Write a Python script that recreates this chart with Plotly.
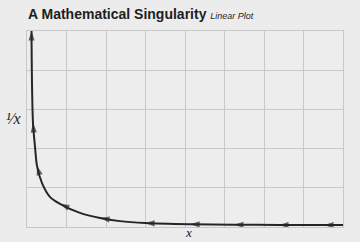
import plotly.graph_objects as go

# Curve points (ordered right -> left, i.e. direction of travel)
curve_x = [8.0, 7.52, 6.38, 5.24, 4.13, 2.99, 2.35, 1.85, 1.34, 0.835, 0.58, 0.38, 0.253, 0.203, 0.152, 0.125, 0.115, 0.115]
curve_y = [0.05, 0.05, 0.05, 0.06, 0.07, 0.10, 0.15, 0.23, 0.36, 0.59, 0.77, 1.12, 1.56, 2.04, 2.65, 3.75, 4.85, 5.0]
# which points carry a direction arrowhead
arrow_at = [0, 1, 1, 1, 1, 1, 0, 1, 0, 1, 0, 0, 1, 0, 1, 0, 0, 1]

title_main = "A Mathematical Singularity"
title_sub = "Linear Plot"
y_label = "¹⁄x"
x_label = "x"

fig = go.Figure()
fig.add_trace(go.Scatter(
    x=curve_x, y=curve_y, mode="lines",
    line=dict(color="#262626", width=2, shape="spline", smoothing=0.8),
    hoverinfo="skip", cliponaxis=False,
))
fig.add_trace(go.Scatter(
    x=curve_x, y=curve_y, mode="markers",
    marker=dict(symbol="arrow", size=[10 if a else 0 for a in arrow_at],
                angleref="previous", color="#262626", line=dict(width=0)),
    hoverinfo="skip", cliponaxis=False,
))

fig.update_layout(
    width=360, height=242,
    margin=dict(l=27, r=17, t=31, b=15),
    paper_bgcolor="#ececec", plot_bgcolor="#ededed",
    showlegend=False,
    title=dict(
        text=f"<b>{title_main}</b> <i><span style='font-size:9px'>{title_sub}</span></i>",
        x=28/360, xanchor="left", y=1-14/242, yanchor="middle",
        font=dict(family="Liberation Sans, Arial, sans-serif", size=14, color="#1e1e1e"),
    ),
    xaxis=dict(range=[0, 8], dtick=1, showticklabels=False, showgrid=True,
               gridcolor="#c8c8c8", gridwidth=1, zeroline=False,
               showline=True, mirror=True, linecolor="#c8c8c8", linewidth=1, ticks=""),
    yaxis=dict(range=[0, 5], dtick=1, showticklabels=False, showgrid=True,
               gridcolor="#c8c8c8", gridwidth=1, zeroline=False,
               showline=True, mirror=True, linecolor="#c8c8c8", linewidth=1, ticks=""),
    annotations=[
        dict(text=f"<i>{y_label}</i>", xref="paper", yref="paper",
             x=-14/316, y=(227-118)/196, xanchor="center", yanchor="middle",
             showarrow=False, font=dict(family="Liberation Serif, DejaVu Serif, serif", size=16, color="#222")),
        dict(text=f"<i>{x_label}</i>", xref="paper", yref="paper",
             x=(188-27)/316, y=-6/196, xanchor="center", yanchor="middle",
             showarrow=False, font=dict(family="Liberation Serif, DejaVu Serif, serif", size=13, color="#222")),
    ],
)

fig.write_html("out.html")
